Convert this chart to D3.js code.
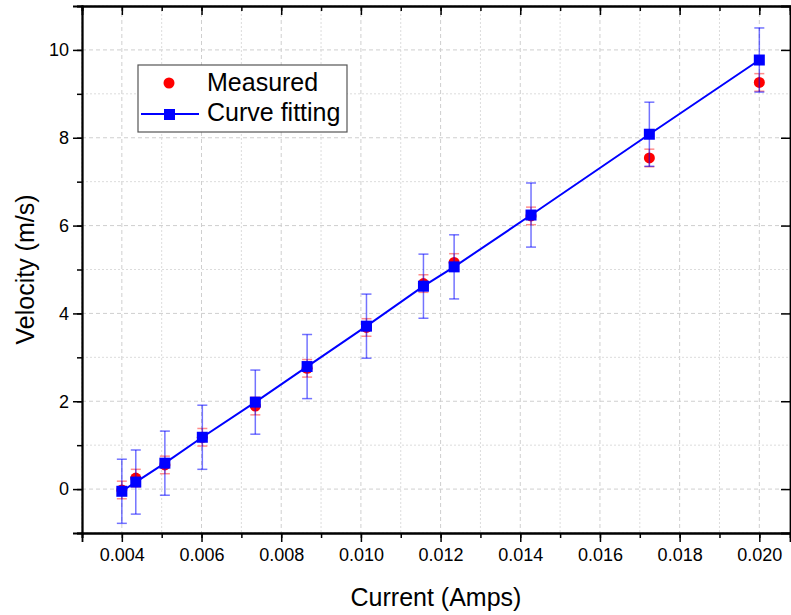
<!DOCTYPE html>
<html>
<head>
<meta charset="utf-8">
<script src="https://cdn.jsdelivr.net/npm/d3@7"></script>
<style>
  body { margin: 0; background: #fff; }
  text { font-family: "Liberation Sans", Arial, sans-serif; }
</style>
</head>
<body>
<svg id="chart"></svg>
<script>
// data
var current = [0.00400, 0.00435, 0.00508, 0.00602, 0.00735, 0.00865, 0.01014, 0.01157, 0.01234, 0.01427, 0.01724, 0.02000];
var measured = [-0.02, 0.25, 0.55, 1.18, 1.89, 2.75, 3.68, 4.68, 5.16, 6.22, 7.54, 9.26];
var measuredErr = [0.2, 0.2, 0.2, 0.2, 0.2, 0.2, 0.2, 0.2, 0.2, 0.2, 0.2, 0.2];
var fitted = [-0.05, 0.16, 0.59, 1.18, 1.98, 2.79, 3.71, 4.62, 5.06, 6.24, 8.08, 9.77];
var fittedErr = [0.73, 0.73, 0.73, 0.73, 0.73, 0.73, 0.73, 0.73, 0.73, 0.73, 0.73, 0.73];
var xTicks = [0.004, 0.006, 0.008, 0.010, 0.012, 0.014, 0.016, 0.018, 0.020];
var yTicks = [0, 2, 4, 6, 8, 10];
var legendNames = ["Measured", "Curve fitting"];

var margin = { left: 82, right: 1, top: 6, bottom: 82 },
  width = 791 - margin.left - margin.right,
  height = 615 - margin.top - margin.bottom;

var svg = d3.select("#chart").attr("width", 791).attr("height", 615);
var g = svg.append("g").attr("transform", `translate(${margin.left},${margin.top})`);

var x = d3.scaleLinear().domain([0.003, 0.02077]).range([0, width]);
var y = d3.scaleLinear().domain([-1, 11]).range([height, 0]);

var xMinor = d3.range(0.003, 0.0208, 0.001).map((d) => +d.toFixed(3));
var yMinor = d3.range(-1, 11.5, 1);

// grid lines, dashed on majors and dotted on minors
g.selectAll(".vgrid")
  .data(xMinor)
  .enter()
  .append("line")
  .attr("x1", (d) => x(d)).attr("x2", (d) => x(d))
  .attr("y1", 0).attr("y2", height)
  .style("stroke", (d) => xTicks.some((t) => Math.abs(t - d) < 1e-6) ? "#cfcfcf" : "#dcdcdc")
  .style("stroke-dasharray", (d) => xTicks.some((t) => Math.abs(t - d) < 1e-6) ? "4,3" : "2,2");
g.selectAll(".hgrid")
  .data(yMinor)
  .enter()
  .append("line")
  .attr("y1", (d) => y(d)).attr("y2", (d) => y(d))
  .attr("x1", 0).attr("x2", width)
  .style("stroke", (d) => d % 2 == 0 ? "#cfcfcf" : "#dcdcdc")
  .style("stroke-dasharray", (d) => d % 2 == 0 ? "4,3" : "2,2");

// axes
var axisFont = 18;
var xAxis = g.append("g")
  .attr("transform", `translate(0,${height})`)
  .call(d3.axisBottom(x).tickValues(xTicks).tickFormat(d3.format(".3f")).tickSize(9).tickPadding(6));
g.append("g")
  .attr("transform", `translate(0,${height})`)
  .call(d3.axisBottom(x).tickValues(xMinor).tickFormat("").tickSize(5));
var yAxis = g.append("g")
  .call(d3.axisLeft(y).tickValues(yTicks).tickSize(9).tickPadding(4));
g.append("g")
  .call(d3.axisLeft(y).tickValues(yMinor).tickFormat("").tickSize(5));
// top and right frame, ticks pointing inwards
g.append("g")
  .call(d3.axisTop(x).tickValues(xTicks).tickFormat("").tickSize(-9));
g.append("g")
  .call(d3.axisTop(x).tickValues(xMinor).tickFormat("").tickSize(-5));
g.append("g")
  .attr("transform", `translate(${width},0)`)
  .call(d3.axisRight(y).tickValues(yTicks).tickFormat("").tickSize(-9));

g.selectAll(".domain").style("stroke", "#000").style("stroke-width", 1.8);
g.selectAll(".tick line").style("stroke", "#000").style("stroke-width", 1.5);
g.selectAll(".tick text")
  .style("font-size", axisFont + "px")
  .style("font-family", "Liberation Sans, Arial, sans-serif")
  .style("fill", "#000");

// axis titles
svg.append("text")
  .attr("x", margin.left + width / 2)
  .attr("y", 606)
  .attr("text-anchor", "middle")
  .style("font-size", "25px")
  .text("Current (Amps)");
svg.append("text")
  .attr("transform", `translate(34,${margin.top + height / 2}) rotate(-90)`)
  .attr("text-anchor", "middle")
  .style("font-size", "25px")
  .text("Velocity (m/s)");

var pts = current.map((c, i) => ({
  x: c, m: measured[i], me: measuredErr[i], f: fitted[i], fe: fittedErr[i]
}));

// error bars
function errorBars(key, errKey, color, op) {
  var eg = g.append("g").style("stroke", color).style("stroke-opacity", op).style("stroke-width", 1.5);
  pts.forEach((d) => {
    eg.append("line")
      .attr("x1", x(d.x)).attr("x2", x(d.x))
      .attr("y1", y(d[key] - d[errKey])).attr("y2", y(d[key] + d[errKey]));
    [d[key] - d[errKey], d[key] + d[errKey]].forEach((v) => {
      eg.append("line")
        .attr("x1", x(d.x) - 5).attr("x2", x(d.x) + 5)
        .attr("y1", y(v)).attr("y2", y(v));
    });
  });
}

errorBars("m", "me", "#ff0000", 0.45);

g.selectAll(".measured")
  .data(pts)
  .enter()
  .append("circle")
  .attr("cx", (d) => x(d.x))
  .attr("cy", (d) => y(d.m))
  .attr("r", 5.5)
  .style("fill", "#ff0000");

var line = d3.line().x((d) => x(d.x)).y((d) => y(d.f));
g.append("path")
  .datum(pts)
  .attr("d", line)
  .style("fill", "none")
  .style("stroke", "#0000ff")
  .style("stroke-width", 2);

errorBars("f", "fe", "#0000ff", 0.55);

g.selectAll(".fitted")
  .data(pts)
  .enter()
  .append("rect")
  .attr("x", (d) => x(d.x) - 5.5)
  .attr("y", (d) => y(d.f) - 5.5)
  .attr("width", 11)
  .attr("height", 11)
  .style("fill", "#0000ff");

// legend
var legend = svg.append("g").attr("transform", "translate(138,65)");
legend.append("rect")
  .attr("width", 209).attr("height", 67)
  .style("fill", "#fff").style("stroke", "#555").style("stroke-width", 1.2);
legend.append("circle").attr("cx", 31).attr("cy", 18).attr("r", 5.5).style("fill", "#ff0000");
legend.append("line")
  .attr("x1", 3).attr("x2", 61).attr("y1", 49).attr("y2", 49)
  .style("stroke", "#0000ff").style("stroke-width", 2);
legend.append("rect")
  .attr("x", 26).attr("y", 44).attr("width", 11).attr("height", 11)
  .style("fill", "#0000ff");
legend.selectAll(".lt")
  .data(legendNames)
  .enter()
  .append("text")
  .attr("x", 69)
  .attr("y", (d, i) => 26 + i * 30)
  .style("font-size", "25px")
  .text((d) => d);
</script>
</body>
</html>
